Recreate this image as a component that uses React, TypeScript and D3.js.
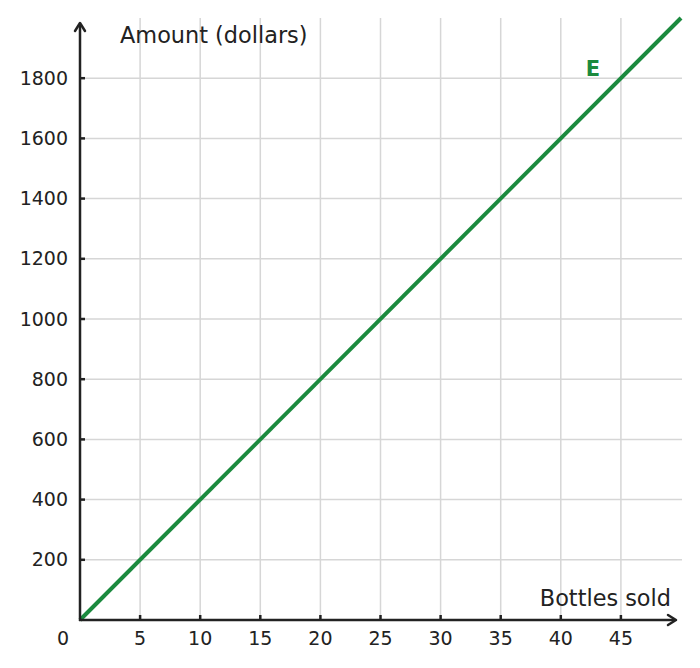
import * as React from 'react';
import * as d3 from 'd3';

const X_TICKS = [5, 10, 15, 20, 25, 30, 35, 40, 45];
const Y_TICKS = [200, 400, 600, 800, 1000, 1200, 1400, 1600, 1800];
const LINE_X = [0, 50];
const LINE_Y = [0, 2000];
const X_DOMAIN = [0, 50];
const Y_DOMAIN = [0, 2000];

const X_LABEL = 'Bottles sold';
const Y_LABEL = 'Amount (dollars)';
const SERIES_LABEL = 'E';

const FONT = '"DejaVu Sans", sans-serif';
const INK = '#222222';
const GRID = '#d6d6d6';
const GREEN = '#1b8a3e';

export default function App() {
    const svgRef = React.useRef<SVGSVGElement>(null);

    React.useEffect(() => {
        const svg = d3.select(svgRef.current);
        svg.selectAll('*').remove();

        /** ******** Scales ********* */
        const xScale = d3.scaleLinear().domain(X_DOMAIN).range([80, 681]);
        const yScale = d3.scaleLinear().domain(Y_DOMAIN).range([620, 18]);
        const x0 = xScale(0);
        const y0 = yScale(0);

        /** ******** Grid ********* */
        const grid = svg.append('g').attr('stroke', GRID).attr('stroke-width', 1.5);
        grid.selectAll('line.v')
            .data(X_TICKS)
            .enter()
            .append('line')
            .attr('x1', (d) => xScale(d))
            .attr('x2', (d) => xScale(d))
            .attr('y1', y0)
            .attr('y2', 18);
        grid.selectAll('line.h')
            .data(Y_TICKS)
            .enter()
            .append('line')
            .attr('x1', x0)
            .attr('x2', 682)
            .attr('y1', (d) => yScale(d))
            .attr('y2', (d) => yScale(d));

        /** ******** Line ********* */
        const pts = LINE_X.map((x, i) => [x, LINE_Y[i]] as [number, number]);
        const line = d3
            .line<[number, number]>()
            .x((d) => xScale(d[0]))
            .y((d) => yScale(d[1]));
        svg.append('path')
            .datum(pts)
            .attr('d', line)
            .attr('fill', 'none')
            .attr('stroke', GREEN)
            .attr('stroke-width', 4);

        /** ******** Axes ********* */
        const axes = svg.append('g').attr('stroke', INK).attr('fill', 'none');
        axes.append('line')
            .attr('x1', x0).attr('x2', x0)
            .attr('y1', y0 + 1).attr('y2', 24)
            .attr('stroke-width', 2.5);
        axes.append('path')
            .attr('d', `M${x0 - 5},${31} L${x0},${23} L${x0 + 5},${31}`)
            .attr('stroke-width', 2.5)
            .attr('stroke-linecap', 'round')
            .attr('stroke-linejoin', 'round');
        axes.append('line')
            .attr('x1', x0 - 1).attr('x2', 675)
            .attr('y1', y0).attr('y2', y0)
            .attr('stroke-width', 2.5);
        axes.append('path')
            .attr('d', `M${668},${y0 - 5} L${676},${y0} L${668},${y0 + 5}`)
            .attr('stroke-width', 2.5)
            .attr('stroke-linecap', 'round')
            .attr('stroke-linejoin', 'round');

        // ticks
        axes.selectAll('line.xt')
            .data(X_TICKS)
            .enter()
            .append('line')
            .attr('x1', (d) => xScale(d))
            .attr('x2', (d) => xScale(d))
            .attr('y1', y0)
            .attr('y2', y0 - 5)
            .attr('stroke-width', 2.5);
        axes.selectAll('line.yt')
            .data(Y_TICKS)
            .enter()
            .append('line')
            .attr('x1', x0)
            .attr('x2', x0 + 5)
            .attr('y1', (d) => yScale(d))
            .attr('y2', (d) => yScale(d))
            .attr('stroke-width', 2.5);

        /** ******** Labels ********* */
        const text = svg.append('g').attr('font-family', FONT).attr('fill', INK);
        text.selectAll('text.xl')
            .data(X_TICKS)
            .enter()
            .append('text')
            .attr('x', (d) => xScale(d))
            .attr('y', 645)
            .attr('text-anchor', 'middle')
            .attr('font-size', 19)
            .text((d) => d);
        text.append('text')
            .attr('x', 63)
            .attr('y', 645)
            .attr('text-anchor', 'middle')
            .attr('font-size', 19)
            .text('0');
        text.selectAll('text.yl')
            .data(Y_TICKS)
            .enter()
            .append('text')
            .attr('x', 68)
            .attr('y', (d) => yScale(d) + 6.5)
            .attr('text-anchor', 'end')
            .attr('font-size', 19)
            .text((d) => d);
        text.append('text')
            .attr('x', 120)
            .attr('y', 43)
            .attr('font-size', 22.4)
            .text(Y_LABEL);
        text.append('text')
            .attr('x', 671)
            .attr('y', 606)
            .attr('text-anchor', 'end')
            .attr('font-size', 22.4)
            .text(X_LABEL);
        text.append('text')
            .attr('x', 593)
            .attr('y', 76)
            .attr('text-anchor', 'middle')
            .attr('font-size', 21)
            .attr('font-weight', 'bold')
            .attr('fill', GREEN)
            .text(SERIES_LABEL);
    });

    return (
        <svg
            ref={svgRef}
            width={700}
            height={668}
            style={{ display: 'block', position: 'absolute', left: 0, top: 0, background: '#fff' }}
        />
    );
}
